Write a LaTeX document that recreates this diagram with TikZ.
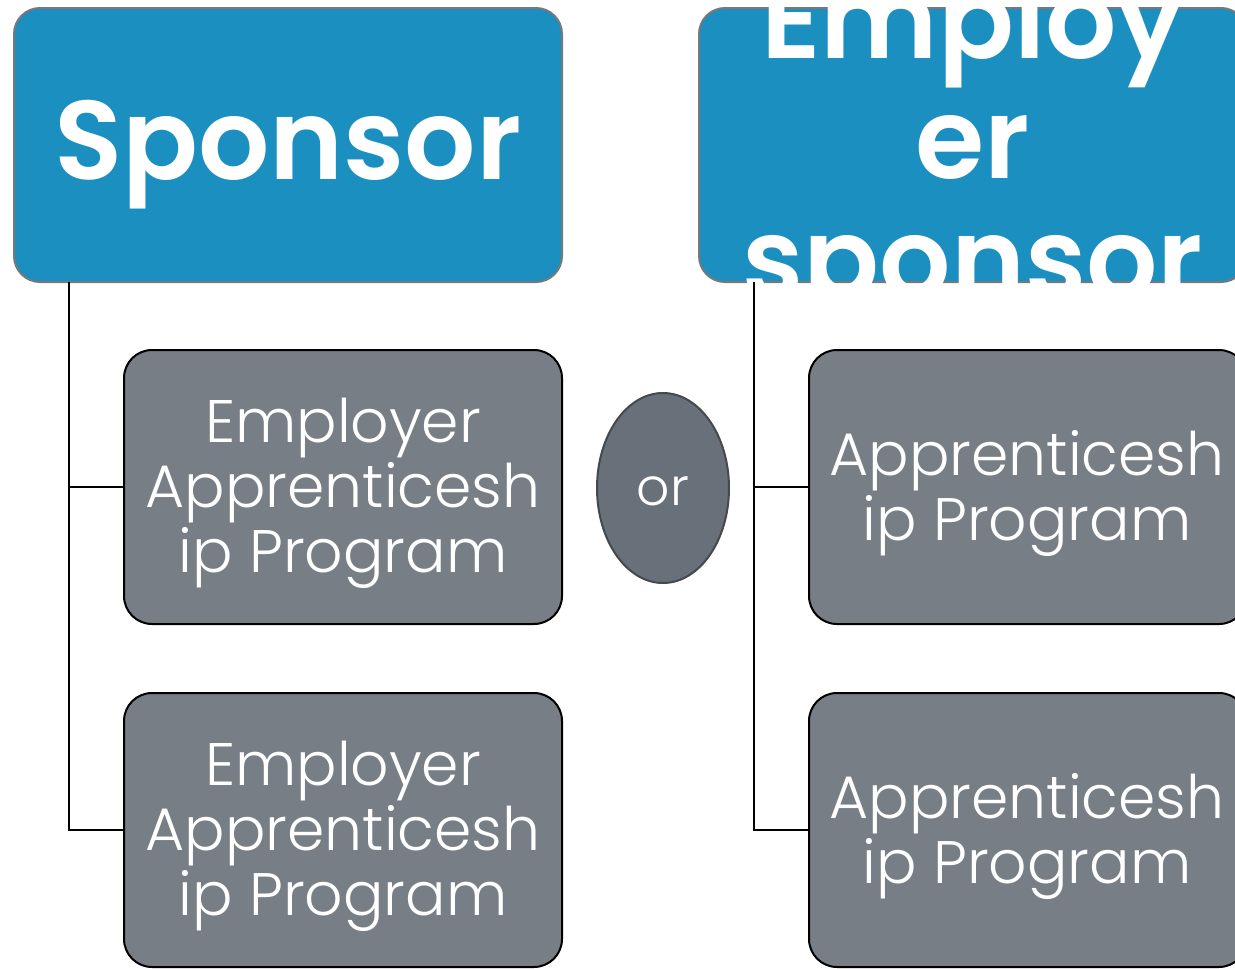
\documentclass[tikz,border=0pt]{standalone}
\usepackage{fontspec}
\usetikzlibrary{shapes.geometric}
\setmainfont{Poppins}[UprightFont=* Light, BoldFont=* SemiBold]
\begin{document}
\begin{tikzpicture}[x=1pt,y=-1pt,
  headbox/.style={draw=headedge, line width=2pt, fill=headblue, rounded corners=26pt,
    minimum width=548pt, minimum height=274pt, inner sep=0pt},
  headtext/.style={text=white, inner sep=0pt, align=center,
    font=\bfseries\fontsize{112}{120}\selectfont},
  progbox/.style={draw=black, line width=2pt, fill=progfill, rounded corners=28pt,
    minimum width=438pt, minimum height=274pt, inner sep=0pt},
  progtext/.style={text=white, inner sep=0pt, align=center,
    font=\fontsize{60}{65}\selectfont},
  link/.style={draw=black, line width=2pt}
]
\definecolor{headblue}{HTML}{1B8FC0}
\definecolor{headedge}{HTML}{75787C}
\definecolor{progfill}{HTML}{787E86}
\definecolor{orfill}{HTML}{68707A}
\definecolor{oredge}{HTML}{45484C}
\useasboundingbox (0,0) rectangle (1235,969);

% header boxes
\node[headbox] (sponsor) at (288,145) {};
\node[headtext] (sponsortext) at (288,155) {Sponsor};
\node[headbox] (empsp) at (973,145) {};
\begin{scope}
  \clip[rounded corners=26pt] (empsp.south west) rectangle (empsp.north east);
  \node[headtext] (empsptext) at (973,152) {Employ\\er\\sponsor};
\end{scope}

% program boxes
\node[progbox] (l1) at (343,487) {};
\node[progbox] (l2) at (343,830) {};
\node[progbox] (r1) at (1028,487) {};
\node[progbox] (r2) at (1028,830) {};
\node[progtext] (l1text) at (343,493) {Employer\\Apprenticesh\\ip Program};
\node[progtext] (l2text) at (343,836) {Employer\\Apprenticesh\\ip Program};
\node[progtext] (r1text) at (1027,493) {Apprenticesh\\ip Program};
\node[progtext] (r2text) at (1027,836) {Apprenticesh\\ip Program};

% the "or" ellipse
\node[draw=oredge, line width=2pt, fill=orfill, ellipse, minimum width=132pt, minimum height=190pt,
  inner sep=0pt] (or) at (663,488) {};
\node[text=white, inner sep=0pt, font=\fontsize{52}{56}\selectfont] (ortext) at (663,491) {or};

% tree connectors
\coordinate (ls) at (69,282);
\coordinate (rs) at (754,282);
\draw[link] (ls) |- (l1.west);
\draw[link] (ls) |- (l2.west);
\draw[link] (rs) |- (r1.west);
\draw[link] (rs) |- (r2.west);
\end{tikzpicture}
\end{document}
